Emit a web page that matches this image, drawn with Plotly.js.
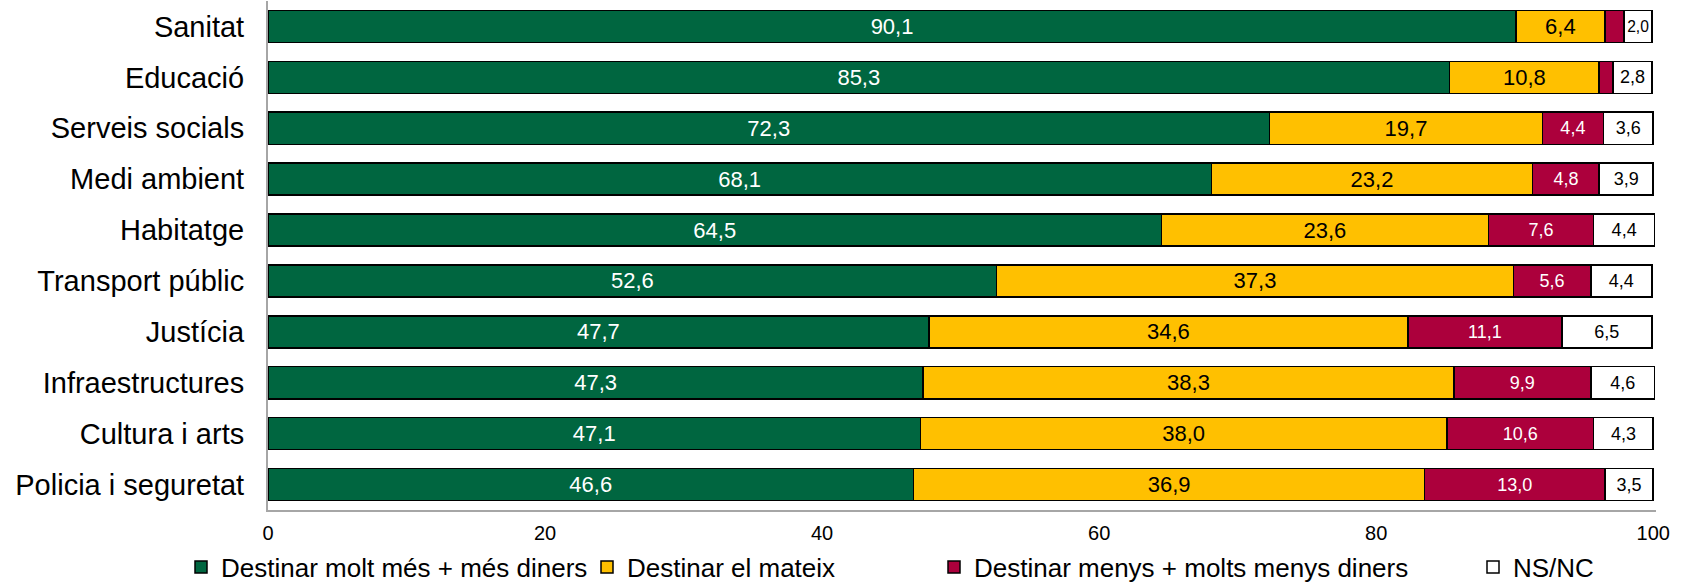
<!DOCTYPE html>
<html>
<head>
<meta charset="utf-8">
<script src="https://cdn.plot.ly/plotly-3.0.1.min.js"></script>
<style>html,body{margin:0;padding:0;background:#fff;}#chart{width:1693px;height:582px;}</style>
</head>
<body>
<div id="chart"></div>
<script>
const categories = ["Sanitat","Educació","Serveis socials","Medi ambient","Habitatge","Transport públic","Justícia","Infraestructures","Cultura i arts","Policia i seguretat"];
const mes = [90.1,85.3,72.3,68.1,64.5,52.6,47.7,47.3,47.1,46.6];
const mateix = [6.4,10.8,19.7,23.2,23.6,37.3,34.6,38.3,38.0,36.9];
const menys = [1.4,1.0,4.4,4.8,7.6,5.6,11.1,9.9,10.6,13.0];
const nsnc = [2.0,2.8,3.6,3.9,4.4,4.4,6.5,4.6,4.3,3.5];
const menysShown = [false,false,true,true,true,true,true,true,true,true];
const seriesNames = ["Destinar molt més + més diners","Destinar el mateix","Destinar menys + molts menys diners","NS/NC"];
const xTicks = [0,20,40,60,80,100];

const fmt = v => v.toFixed(1).replace('.', ',');
const FONT = "Liberation Sans, Arial, sans-serif";

function mk(vals, name, color, txtColor, size, legendId, labels) {
  return {
    type: 'bar', orientation: 'h', name: name,
    y: categories, x: vals,
    text: labels || vals.map(fmt),
    textposition: 'inside', insidetextanchor: 'middle', textangle: 0,
    textfont: {family: FONT, size: size, color: txtColor},
    marker: {color: color, line: {color: '#000', width: 1.5}},
    legend: legendId, hoverinfo: 'skip', cliponaxis: false
  };
}

const traces = [
  mk(mes, seriesNames[0], '#006640', '#ffffff', 22, 'legend'),
  mk(mateix, seriesNames[1], '#FFC000', '#000000', 22, 'legend2'),
  mk(menys, seriesNames[2], '#AC003C', '#ffffff', 18, 'legend3', menys.map((v,i)=> menysShown[i] ? fmt(v) : '')),
  mk(nsnc, seriesNames[3], '#ffffff', '#000000', 18, 'legend4')
];

const legBase = {orientation: 'h', xref: 'container', yref: 'container', yanchor: 'middle', xanchor: 'left', y: 1 - 567/582,
  font: {family: FONT, size: 26, color: '#000'}, bgcolor: 'rgba(0,0,0,0)', borderwidth: 0, itemwidth: 30, tracegroupgap: 0};

const layout = {
  width: 1693, height: 582,
  margin: {l: 268, r: 37, t: 1, b: 72, pad: 0},
  paper_bgcolor: '#fff', plot_bgcolor: '#fff',
  barmode: 'stack', bargap: 0.37,
  showlegend: true,
  font: {family: FONT, color: '#000'},
  xaxis: {range: [0, 100.2], tickvals: xTicks, ticktext: xTicks.map(String), showgrid: false, zeroline: false,
    showline: true, linecolor: '#a6a6a6', linewidth: 2, ticks: '', ticklabelstandoff: 4,
    tickfont: {family: FONT, size: 20, color: '#000'}, fixedrange: true},
  yaxis: {autorange: 'reversed', showgrid: false, zeroline: false, showline: true, linecolor: '#a6a6a6', linewidth: 2,
    ticks: '', ticklabelstandoff: 16, tickfont: {family: FONT, size: 29, color: '#000'}, fixedrange: true},
  legend: Object.assign({}, legBase, {x: (223 - 42)/1693}),
  legend2: Object.assign({}, legBase, {x: (629 - 42)/1693}),
  legend3: Object.assign({}, legBase, {x: (976 - 42)/1693}),
  legend4: Object.assign({}, legBase, {x: (1515 - 42)/1693})
};

Plotly.newPlot('chart', traces, layout, {displayModeBar: false, staticPlot: true});
</script>
</body>
</html>
